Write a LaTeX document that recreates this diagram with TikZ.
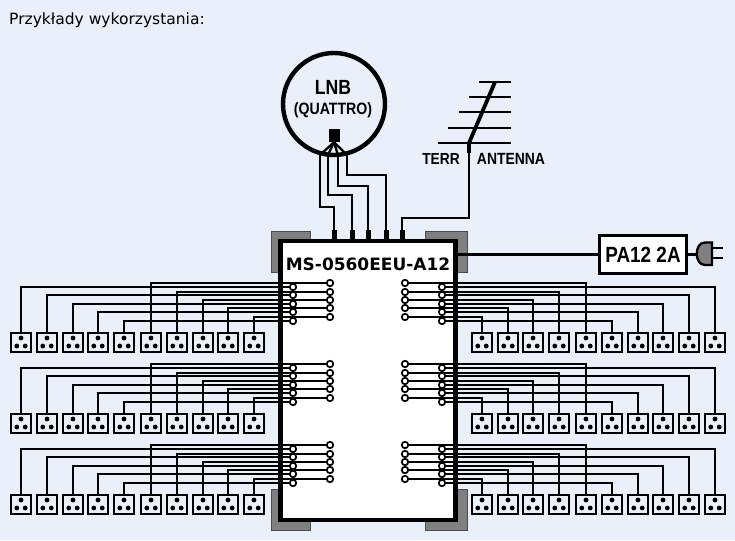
\documentclass[tikz,border=0pt]{standalone}
\usepackage{fontspec}
\setmainfont{Liberation Sans}
\newfontfamily\narrowfont[FakeStretch=0.86]{Liberation Sans}
\newfontfamily\modelfont{DejaVu Sans}
\definecolor{bgblue}{HTML}{E9F0FA}
\definecolor{bracketgrey}{HTML}{808080}
\tikzset{
	wire/.style={line width=2.3pt},
	socket/.style={draw, fill=bgblue, line width=2.3pt, minimum width=20pt, minimum height=19.5pt, inner sep=0pt},
	terminal/.style={circle, draw, fill=white, line width=1.7pt, minimum size=6.5pt, inner sep=0pt},
	port/.style={fill=black, minimum width=5pt, minimum height=9pt, inner sep=0pt},
	bracket/.style={draw=black!70, fill=bracketgrey, line width=0.8pt, minimum width=39pt, minimum height=41pt, inner sep=0pt},
}
\begin{document}
\begin{tikzpicture}[x=1pt,y=-1pt]
		\useasboundingbox[fill=bgblue] (0,0) rectangle (735,540);
		\node[anchor=west, inner sep=0pt] (title) at (9,20) {\modelfont\fontsize{15.5}{17}\selectfont Przykłady wykorzystania:};

		% Grey brackets
		\node[bracket] (brTL) at (290.5,251.5) {};
		\node[bracket, minimum width=42pt] (brTR) at (446,251.5) {};
		\node[bracket] (brBL) at (290.5,510) {};
		\node[bracket, minimum width=42pt] (brBR) at (446,510) {};

		% Main box
		\node[draw, fill=white, line width=4.6pt, minimum width=175pt, minimum height=279pt, inner sep=0pt] (box) at (368.2,380.5) {};
		\node (model) at (368,264) {\modelfont\bfseries\fontsize{17}{19}\selectfont MS-0560EEU-A12};

		% LNB
		\node[circle, draw, fill=bgblue, line width=4.4pt, minimum size=102pt, inner sep=0pt] (lnb) at (334,104) {};
		\node (lnbname) at (333,87) {\narrowfont\bfseries\fontsize{20.5}{22}\selectfont LNB};
		\node (lnbtype) at (333,110) {\narrowfont\bfseries\fontsize{16.4}{18}\selectfont (QUATTRO)};
		\node[fill=black, minimum width=11pt, minimum height=13pt, inner sep=0pt] (feed) at (334,135.5) {};

		% Input ports
		\foreach \px [count=\n] in {334,352,368,386,402}
			\node[port] (port\n) at (\px,234.5) {};

		% Signal lines from LNB
		\coordinate (out1) at (320,155);
		\coordinate (out2) at (328,155);
		\coordinate (out3) at (338,155);
		\coordinate (out4) at (347,155);
		\foreach \n in {1,2,3,4}
			\draw[wire] (feed.south) -- (out\n);
		\draw[wire] (out1) -- (320,207) -- (334,207) -- (port1);
		\draw[wire] (out2) -- (328,195) -- (352,195) -- (port2);
		\draw[wire] (out3) -- (338,186) -- (368,186) -- (port3);
		\draw[wire] (out4) -- (347,175) -- (386,175) -- (port4);

		% Antenna
		\foreach \ax/\ay [count=\n] in {479/82,469/97,459/112,448/128,438/143}
			\draw[wire] (\ax,\ay) -- (511,\ay);
		\coordinate (mastTop) at (495,82);
		\coordinate (mastFoot) at (469,143);
		\coordinate (mastEnd) at (469,153);
		\draw[line width=3.8pt] (mastTop) -- (mastFoot) -- (mastEnd);
		\draw[wire] (mastEnd) -- (469,218) -- (402,218) -- (port5);
		\node[inner sep=0pt] (terr) at (441,159) {\narrowfont\bfseries\fontsize{16}{18}\selectfont TERR};
		\node[inner sep=0pt] (ant) at (511,159) {\narrowfont\bfseries\fontsize{16.2}{18}\selectfont ANTENNA};

		% Power supply
		\node[draw, fill=white, line width=2.3pt, minimum width=87pt, minimum height=38pt, inner sep=0pt] (pa) at (643,254.5) {\narrowfont\bfseries\fontsize{22}{24}\selectfont PA12 2A};
		\draw[wire] (pa.west) -- (pa.west -| box.east);
		\coordinate (plug) at (697,254.5);
		\draw[wire] (pa.east) -- (plug);
		\filldraw[fill=bracketgrey, line width=2.3pt] (712,242.5) -- (705,242.5) .. controls (694,242.5) and (694,265) .. (705,265) -- (712,265) -- cycle;
		\draw[wire] (712,248) -- (723,248);
		\draw[wire] (712,258) -- (723,258);

		% Outlets, left side and right side of each row
		\foreach \row in {0,1,2} {
			\foreach \sx/\ty/\tx [count=\n] in {151/283/330,177/292/330,203/300/330,228/308/330,254/317/330,21/287/293,47/295/293,73/304/293,98/312/293,124/321/293} {
				\node[socket] (sockL\row\n) at (\sx,{342.5+81*\row}) {};
				\node[terminal] (termL\row\n) at (\tx,{\ty+81*\row}) {};
				\draw[wire] (sockL\row\n.north) |- (termL\row\n.west);
				\fill (sockL\row\n.center) ++(0,-4.5) circle (2.4);
				\fill (sockL\row\n.center) ++(-4.2,3.5) circle (2.4);
				\fill (sockL\row\n.center) ++(4.2,3.5) circle (2.4);
			}
			\foreach \sx/\ty/\tx [count=\n] in {586/283/405,559/292/405,533/300/405,508/308/405,482/317/405,715/287/442,689/295/442,663/304/442,638/312/442,612/321/442} {
				\node[socket] (sockR\row\n) at (\sx,{342.5+81*\row}) {};
				\node[terminal] (termR\row\n) at (\tx,{\ty+81*\row}) {};
				\draw[wire] (sockR\row\n.north) |- (termR\row\n.east);
				\fill (sockR\row\n.center) ++(0,-4.5) circle (2.4);
				\fill (sockR\row\n.center) ++(-4.2,3.5) circle (2.4);
				\fill (sockR\row\n.center) ++(4.2,3.5) circle (2.4);
			}
		}
	\end{tikzpicture}
\end{document}
